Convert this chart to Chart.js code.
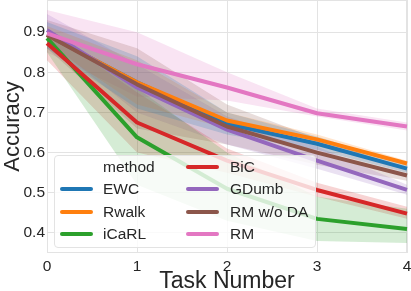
<!DOCTYPE html>
<html>
<head>
<meta charset="utf-8">
<script src="https://cdn.jsdelivr.net/npm/chart.js@4/dist/chart.umd.min.js"></script>
<style>
body { margin: 0; background: #fff; }
#wrap { position: relative; width: 411px; height: 291px; }
#legend {
    position: absolute; left: 54px; top: 155px; width: 260px; height: 91px;
    background: rgba(255,255,255,0.8); border: 1px solid #e3e3e3; border-radius: 4px;
    font-family: "Liberation Sans", Arial, sans-serif; font-size: 15.5px; color: #262626;
}
.item { position: absolute; height: 22px; line-height: 22px; white-space: nowrap; }
.swatch { position: absolute; height: 4px; width: 33px; border-radius: 2px; }
</style>
</head>
<body>
<div id="wrap">
    <canvas id="chart" width="411" height="291"></canvas>
    <div id="legend"></div>
</div>
<script>
const tasks = ['0', '1', '2', '3', '4'];
const yTicks = [0.4, 0.5, 0.6, 0.7, 0.8, 0.9];
const methods = ['EWC', 'Rwalk', 'iCaRL', 'BiC', 'GDumb', 'RM w/o DA', 'RM'];
const colors = ['#1f77b4', '#ff7f0e', '#2ca02c', '#d62728', '#9467bd', '#8c564b', '#e377c2'];

// mean accuracy per task
const ewc    = [0.893, 0.775, 0.672, 0.622, 0.560];
const rwalk  = [0.893, 0.775, 0.680, 0.633, 0.573];
const icarl  = [0.885, 0.638, 0.510, 0.435, 0.410];
const bic    = [0.872, 0.675, 0.580, 0.507, 0.448];
const gdumb  = [0.905, 0.762, 0.657, 0.580, 0.507];
const rmNoDa = [0.893, 0.770, 0.665, 0.600, 0.543];
const rm     = [0.897, 0.820, 0.762, 0.698, 0.665];

// confidence band bounds
const ewcLo    = [0.860, 0.710, 0.645, 0.607, 0.550];
const ewcHi    = [0.925, 0.840, 0.700, 0.640, 0.570];
const rwalkLo  = [0.870, 0.720, 0.660, 0.620, 0.565];
const rwalkHi  = [0.915, 0.830, 0.700, 0.645, 0.580];
const icarlLo  = [0.850, 0.520, 0.430, 0.380, 0.375];
const icarlHi  = [0.910, 0.760, 0.600, 0.490, 0.460];
const bicLo    = [0.830, 0.600, 0.550, 0.490, 0.435];
const bicHi    = [0.905, 0.750, 0.610, 0.525, 0.465];
const gdumbLo  = [0.880, 0.700, 0.620, 0.560, 0.495];
const gdumbHi  = [0.945, 0.820, 0.690, 0.615, 0.520];
const rmNoDaLo = [0.860, 0.660, 0.620, 0.570, 0.530];
const rmNoDaHi = [0.930, 0.860, 0.720, 0.635, 0.560];
const rmLo     = [0.850, 0.740, 0.730, 0.690, 0.655];
const rmHi     = [0.955, 0.900, 0.800, 0.710, 0.675];

const means = [ewc, rwalk, icarl, bic, gdumb, rmNoDa, rm];
const lows  = [ewcLo, rwalkLo, icarlLo, bicLo, gdumbLo, rmNoDaLo, rmLo];
const highs = [ewcHi, rwalkHi, icarlHi, bicHi, gdumbHi, rmNoDaHi, rmHi];

const FONT = '"Liberation Sans", Arial, sans-serif';
const TEXT = '#262626';
const GRID = '#e3e3e3';

function alpha(hex, a) {
    const n = parseInt(hex.slice(1), 16);
    return `rgba(${(n >> 16) & 255},${(n >> 8) & 255},${n & 255},${a})`;
}

const datasets = [];
methods.forEach((m, i) => {
    datasets.push({ data: highs[i], borderWidth: 0, borderColor: 'transparent', pointRadius: 0, fill: false, order: 20 });
    datasets.push({ data: lows[i], borderWidth: 0, borderColor: 'transparent', pointRadius: 0, fill: '-1',
        backgroundColor: alpha(colors[i], 0.2), order: 20 });
});
methods.forEach((m, i) => {
    datasets.push({ label: m, data: means[i], borderColor: colors[i], borderWidth: 4, pointRadius: 0,
        fill: false, tension: 0, borderJoinStyle: 'round', order: 10 - i });
});

const frame = {
    id: 'frame',
    beforeDatasetsDraw(chart) {
        const a = chart.chartArea, ctx = chart.ctx;
        ctx.save();
        ctx.strokeStyle = GRID;
        ctx.lineWidth = 1;
        ctx.strokeRect(a.left + 0.5, a.top + 0.5, a.right - a.left - 1, a.bottom - a.top - 1);
        ctx.restore();
    }
};

new Chart(document.getElementById('chart'), {
    type: 'line',
    data: { labels: tasks, datasets: datasets },
    plugins: [frame],
    options: {
        responsive: false,
        animation: false,
        layout: { padding: { left: 0, right: 4, top: 0, bottom: 0 } },
        plugins: { legend: { display: false }, tooltip: { enabled: false } },
        scales: {
            x: {
                offset: false,
                grid: { color: GRID, drawTicks: false, offset: false },
                border: { display: false },
                ticks: { padding: 4, color: TEXT, maxRotation: 0, font: { family: FONT, size: 15.5 } },
                title: { display: true, text: 'Task Number', color: TEXT, padding: 0,
                    font: { family: FONT, size: 23, lineHeight: 0.85 } },
                afterFit(s) { s.height = 38; s.paddingLeft = 0; s.paddingRight = 0; }
            },
            y: {
                min: 0.35,
                max: 0.98,
                afterBuildTicks(s) { s.ticks = yTicks.map(v => ({ value: v })); },
                grid: { color: GRID, drawTicks: false },
                border: { display: false },
                ticks: { padding: 2, color: TEXT, font: { family: FONT, size: 15.5 }, callback: v => v.toFixed(1) },
                title: { display: true, text: 'Accuracy', color: TEXT, padding: 0, font: { family: FONT, size: 22 } },
                afterFit(s) { s.width = 47; s.paddingTop = 0; s.paddingBottom = 0; }
            }
        }
    }
});

// legend, seaborn style: title entry then hue entries in two columns
const legend = document.getElementById('legend');
const entries = [{ label: 'method', color: null }].concat(methods.map((m, i) => ({ label: m, color: colors[i] })));
entries.forEach((e, k) => {
    const col = Math.floor(k / 4), row = k % 4;
    const top = row * 22.3;
    const hx = col === 0 ? 5 : 131;
    const tx = col === 0 ? 48 : 175;
    if (e.color) {
        const sw = document.createElement('div');
        sw.className = 'swatch';
        sw.style.left = hx + 'px';
        sw.style.top = (top + 9) + 'px';
        sw.style.background = e.color;
        legend.appendChild(sw);
    }
    const it = document.createElement('div');
    it.className = 'item';
    it.style.left = tx + 'px';
    it.style.top = top + 'px';
    it.textContent = e.label;
    legend.appendChild(it);
});
</script>
</body>
</html>
